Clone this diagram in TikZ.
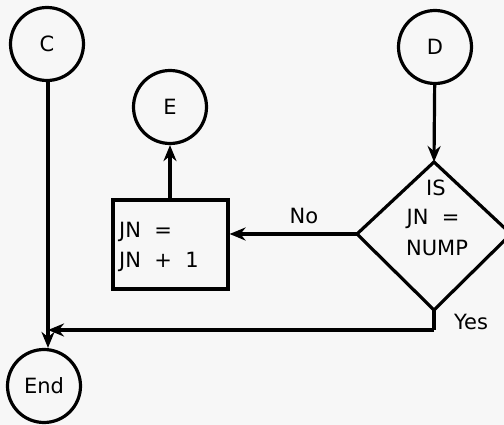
\documentclass[tikz,border=0pt]{standalone}
\usepackage{fontspec}
\setmainfont{DejaVu Sans}
\usetikzlibrary{shapes.geometric,arrows.meta}
\begin{document}
\begin{tikzpicture}[x=1pt,y=-1pt,
  conn/.style={circle,draw,line width=3.2pt,minimum size=73pt,inner sep=0pt,font=\fontsize{21}{23}\selectfont},
  arr/.style={line width=3.2pt,-{Stealth[length=16pt,width=13pt]}},
  ln/.style={line width=3.2pt},
  lbl/.style={font=\fontsize{21}{23}\selectfont,inner sep=0pt}]
\fill[white!97!black] (0,0) rectangle (504,425);
\clip (0,0) rectangle (504,425);
\node[conn] (C) at (47,44) {C};
\node[conn] (E) at (170,107) {E};
\node[conn] (D) at (435,47) {D};
\node[conn] (End) at (44,386) {End};
\node[draw,line width=3.2pt,minimum width=115pt,minimum height=89pt,inner sep=0pt] (box) at (170.5,244.5) {};
\node[lbl,anchor=west,align=left] (boxt) at (119,247) {JN \ =\\[7pt]JN \ + \ 1};
\coordinate (dt) at (434,162);
\coordinate (dl) at (357,234);
\coordinate (db) at (434,310);
\coordinate (dr) at (511,234);
\draw[line width=3.2pt,line join=miter] (dt) -- (dl) -- (db) -- (dr) -- cycle;
\node[lbl] (is) at (436,188) {IS};
\node[lbl] (jn) at (433,219) {JN \ =};
\node[lbl] (nump) at (437,248) {NUMP};
\node[lbl] (no) at (304,216) {No};
\node[lbl] (yes) at (471,322) {Yes};
\coordinate (cd) at (48,330);
\coordinate (yc) at (434,330);
\draw[arr] (D) -- (dt);
\draw[arr] (dl) -- (box.east |- dl);
\draw[arr] (box.north -| E) -- (E);
\draw[ln] (db) -- (yc);
\draw[arr] (yc) -- (cd);
\draw[arr] (C.south -| cd) -- (cd |- End.north);
\end{tikzpicture}
\end{document}
